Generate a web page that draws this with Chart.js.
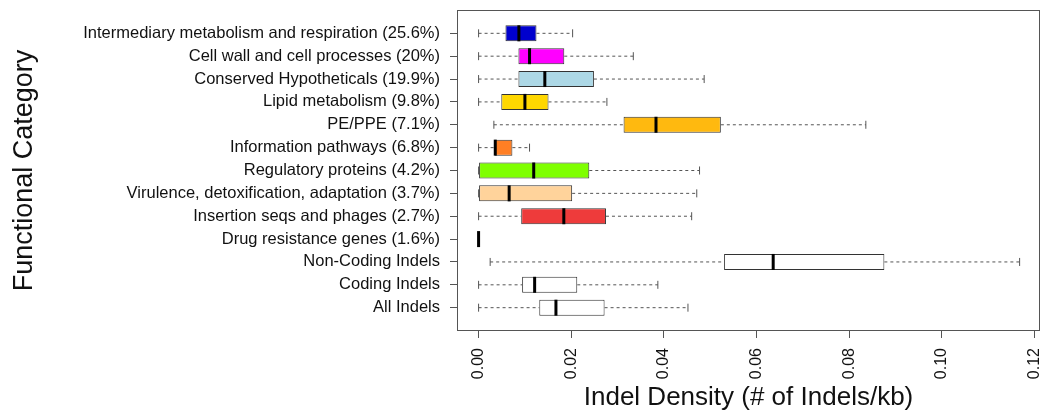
<!DOCTYPE html>
<html>
<head>
<meta charset="utf-8">
<title>Indel density by functional category</title>
<script src="https://cdn.jsdelivr.net/npm/chart.js@4/dist/chart.umd.min.js"></script>
<style>
  body { margin: 0; background: #fff; }
  #wrap { width: 1048px; height: 412px; }
</style>
</head>
<body>
<div id="wrap"><canvas id="box-chart" width="1048" height="412"></canvas></div>
<script>
// Categories, top to bottom
const categories = [
    'Intermediary metabolism and respiration (25.6%)',
    'Cell wall and cell processes (20%)',
    'Conserved Hypotheticals (19.9%)',
    'Lipid metabolism (9.8%)',
    'PE/PPE (7.1%)',
    'Information pathways (6.8%)',
    'Regulatory proteins (4.2%)',
    'Virulence, detoxification, adaptation (3.7%)',
    'Insertion seqs and phages (2.7%)',
    'Drug resistance genes (1.6%)',
    'Non-Coding Indels',
    'Coding Indels',
    'All Indels'
];

// Box plot statistics (indels per kb)
const whiskerLow  = [0, 0, 0, 0, 0.0033, 0, 0, 0, 0, 0, 0.0025, 0, 0];
const q1          = [0.0058, 0.0086, 0.0086, 0.0049, 0.0313, 0.0035, 0, 0, 0.0092, 0, 0.0530, 0.0094, 0.0131];
const medians     = [0.0087, 0.0110, 0.0143, 0.0100, 0.0383, 0.0036, 0.0119, 0.0066, 0.0184, 0, 0.0636, 0.0121, 0.0167];
const q3          = [0.0125, 0.0185, 0.0249, 0.0151, 0.0523, 0.0073, 0.0239, 0.0202, 0.0275, 0, 0.0876, 0.0213, 0.0272];
const whiskerHigh = [0.0203, 0.0334, 0.0487, 0.0277, 0.0836, 0.0110, 0.0477, 0.0471, 0.0460, 0, 0.1168, 0.0387, 0.0452];

const boxColors = ['#0000CD', '#FF00FF', '#ADD8E6', '#FFD700', '#FFB90F', '#FF7F24',
                   '#7FFF00', '#FFD39B', '#EE3B3B', '#FFFFFF', '#FFFFFF', '#FFFFFF', '#FFFFFF'];

const xTicks = [0, 0.02, 0.04, 0.06, 0.08, 0.10, 0.12];

const fontFamily = '"Liberation Sans", Arial, Helvetica, sans-serif';
const textColor = '#111';

// Whiskers, medians and the frame around the plot
const boxPlotPlugin = {
    id: 'boxPlotExtras',
    afterDatasetsDraw(chart) {
        const ctx = chart.ctx;
        const xs = chart.scales.x;
        const ys = chart.scales.y;
        const meta = chart.getDatasetMeta(0);
        ctx.save();
        categories.forEach(function(cat, i) {
            const y = ys.getPixelForValue(i + 1);
            const half = meta.data[i].height / 2;
            const cap = half * 0.5;
            const xLo = xs.getPixelForValue(whiskerLow[i]);
            const xQ1 = xs.getPixelForValue(q1[i]);
            const xQ3 = xs.getPixelForValue(q3[i]);
            const xHi = xs.getPixelForValue(whiskerHigh[i]);

            ctx.strokeStyle = '#555';
            ctx.lineWidth = 1;
            ctx.setLineDash([3, 3]);
            ctx.beginPath();
            if (xQ1 > xLo) { ctx.moveTo(xLo, y); ctx.lineTo(xQ1, y); }
            if (xHi > xQ3) { ctx.moveTo(xQ3, y); ctx.lineTo(xHi, y); }
            ctx.stroke();

            ctx.setLineDash([]);
            ctx.beginPath();
            if (whiskerHigh[i] > whiskerLow[i]) {
                ctx.moveTo(xLo, y - cap); ctx.lineTo(xLo, y + cap);
                ctx.moveTo(xHi, y - cap); ctx.lineTo(xHi, y + cap);
            }
            ctx.stroke();

            // median
            const xM = xs.getPixelForValue(medians[i]);
            ctx.strokeStyle = '#000';
            ctx.lineWidth = 3;
            ctx.beginPath();
            ctx.moveTo(xM, y - half);
            ctx.lineTo(xM, y + half);
            ctx.stroke();
        });

        const a = chart.chartArea;
        ctx.strokeStyle = '#555';
        ctx.lineWidth = 1;
        ctx.strokeRect(a.left + 0.5, a.top + 0.5, a.right - a.left - 1, a.bottom - a.top - 1);
        ctx.restore();
    }
};

const ctx = document.getElementById('box-chart').getContext('2d');
const boxChart = new Chart(ctx, {
    type: 'bar',
    data: {
        datasets: [{
            label: 'Interquartile range',
            data: categories.map(function(cat, i) {
                return { y: i + 1, x: [q1[i], q3[i]] };
            }),
            backgroundColor: boxColors,
            borderColor: '#333',
            borderWidth: 1,
            borderSkipped: false,
            categoryPercentage: 1,
            barPercentage: 0.7
        }]
    },
    options: {
        indexAxis: 'y',
        responsive: false,
        animation: false,
        layout: { padding: { left: 0, right: 8, top: 10, bottom: 0 } },
        plugins: {
            legend: { display: false },
            tooltip: { enabled: false }
        },
        scales: {
            x: {
                type: 'linear',
                min: -0.00466,
                max: 0.1212,
                afterBuildTicks: function(scale) {
                    scale.ticks = xTicks.map(function(v) { return { value: v }; });
                },
                afterFit: function(scale) {
                    scale.height = 81;
                    scale.paddingLeft = 0;
                    scale.paddingRight = 0;
                },
                ticks: {
                    autoSkip: false,
                    minRotation: 90,
                    maxRotation: 90,
                    padding: 10,
                    color: textColor,
                    font: { family: fontFamily, size: 16 },
                    callback: function(value) { return Number(value).toFixed(2); }
                },
                grid: { drawOnChartArea: false, drawTicks: true, tickLength: 7, color: '#555' },
                border: { display: false },
                title: {
                    display: true,
                    text: 'Indel Density (# of Indels/kb)',
                    color: textColor,
                    padding: 0,
                    font: { family: fontFamily, size: 26, lineHeight: 1.1 }
                }
            },
            y: {
                type: 'linear',
                reverse: true,
                offset: false,
                min: -0.02,
                max: 14.02,
                afterBuildTicks: function(scale) {
                    scale.ticks = categories.map(function(cat, i) { return { value: i + 1 }; });
                },
                afterFit: function(scale) {
                    scale.width = 457;
                    scale.paddingTop = 0;
                    scale.paddingBottom = 0;
                },
                ticks: {
                    autoSkip: false,
                    padding: 10,
                    color: textColor,
                    font: { family: fontFamily, size: 16.5 },
                    callback: function(value) { return categories[value - 1]; }
                },
                grid: { offset: false, drawOnChartArea: false, drawTicks: true, tickLength: 7, color: '#555' },
                border: { display: false },
                title: {
                    display: true,
                    text: 'Functional Category',
                    color: textColor,
                    padding: { top: 8, bottom: 0 },
                    font: { family: fontFamily, size: 27 }
                }
            }
        }
    },
    plugins: [boxPlotPlugin]
});
</script>
</body>
</html>
